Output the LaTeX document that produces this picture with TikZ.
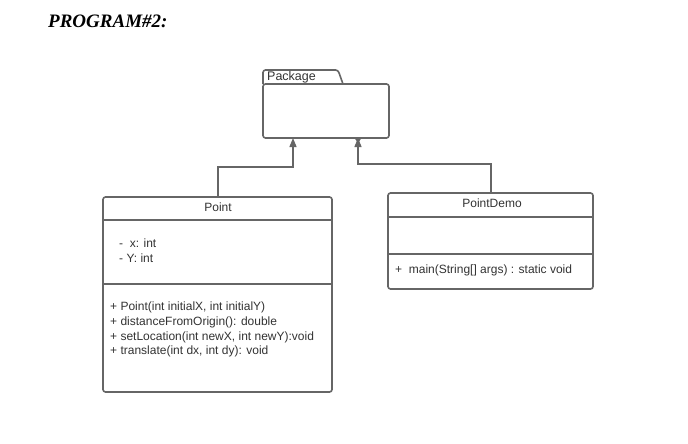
\documentclass[tikz,border=0pt]{standalone}
\usepackage{fontspec}
\setmainfont{Liberation Sans}
\newfontfamily\titlefont{Liberation Serif}
\usetikzlibrary{arrows.meta}
\definecolor{linec}{HTML}{666666}
\definecolor{textc}{HTML}{333333}
\tikzset{
  boxline/.style={draw=linec, line width=1.6pt, rounded corners=2.5pt},
  divline/.style={draw=linec, line width=1.6pt},
  conn/.style={draw=linec, line width=1.3pt, -{Triangle[length=9pt,width=7pt]}},
  lbl/.style={text=textc, font=\fontsize{12}{14}\selectfont, inner sep=0pt},
}
\begin{document}
\begin{tikzpicture}[x=1pt,y=-1pt]
\useasboundingbox (0,0) rectangle (688,444);
\fill[white] (0,0) rectangle (688,444);
% title
\node[anchor=west, inner sep=0pt, font=\titlefont\bfseries\itshape\fontsize{19}{22}\selectfont] (title) at (48,21) {PROGRAM\#2:};
% package
\draw[boxline] (263,84) -- (263,70) -- (338,70) -- (343,84);
\draw[boxline] (263,84) rectangle (389,138);
\node[anchor=west, lbl, font=\fontsize{12.5}{14}\selectfont] (pkglbl) at (267,77) {Package};
\coordinate (pkgL) at (293,138);
\coordinate (pkgR) at (358,138);
% Point class
\draw[boxline] (103,197) rectangle (332,392);
\draw[divline] (103,220) -- (332,220);
\draw[divline] (103,284) -- (332,284);
\node[lbl] (pointT) at (218,207.5) {Point};
\coordinate (pointTop) at (218,197);
\node[lbl, anchor=west] (a1) at (119,243) {-\ \ x: int};
\node[lbl, anchor=west] (a2) at (119,258) {- Y: int};
\node[lbl, anchor=west] (m1) at (110,307) {+ Point(int initialX, int initialY)};
\node[lbl, anchor=west] (m2) at (110,322) {+ distanceFromOrigin(): double};
\node[lbl, anchor=west] (m3) at (110,337) {+ setLocation(int newX, int newY):void};
\node[lbl, anchor=west] (m4) at (110,351.5) {+ translate(int dx, int dy): void};
% PointDemo class
\draw[boxline] (388,193) rectangle (593,289);
\draw[divline] (388,217) -- (593,217);
\draw[divline] (388,254) -- (593,254);
\node[lbl] (demoT) at (492,203.5) {PointDemo};
\coordinate (demoTop) at (491,193);
\node[lbl, anchor=west] (dm1) at (395,270) {+\ \ main(String[] args) : static void};
% connectors
\draw[conn] (pointTop) -- (218,167) -- (293,167) -- (pkgL);
\draw[conn] (demoTop) -- (491,164) -- (358,164) -- (pkgR);
\fill[linec] (pkgR) ++(-3.5,0) -- ++(7,0) -- (358,143) -- cycle;
\end{tikzpicture}
\end{document}
